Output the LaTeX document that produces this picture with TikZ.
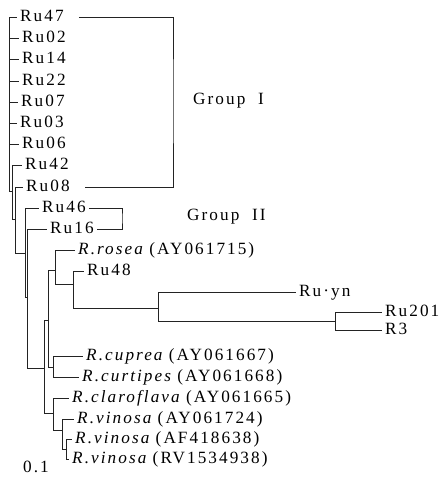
\documentclass[tikz,border=0pt]{standalone}
\usepackage{fontspec}
\setmainfont{Liberation Serif}[LetterSpace=12]
\usepackage{xcolor}
\definecolor{treeink}{RGB}{35, 35, 35}
\usepackage{tikz}
\usetikzlibrary{positioning}

\tikzset{
  leaf/.style={anchor=west, inner xsep=3pt, inner ysep=0pt, text height=11pt, text depth=3pt,
    font=\fontsize{17.2}{19}\selectfont},
  branch/.style={line width=0.6pt, treeink},
}

\begin{document}
\begin{tikzpicture}[x=1pt, y=-1pt]
    \useasboundingbox (0,0) rectangle (446,479);
    \coordinate (n1) at (9,100);
    \coordinate (n2) at (12,191);
    \coordinate (n3) at (15,219);
    \coordinate (n4) at (25,253);
    \coordinate (n5) at (27,297);
    \coordinate (n6) at (44,368);
    \coordinate (n7) at (48,320);
    \coordinate (n8) at (55,270);
    \coordinate (n9) at (73,284);
    \coordinate (n10) at (158,308);
    \coordinate (n10b) at (335,321);
    \coordinate (n11) at (53,367);
    \coordinate (n12) at (53,413);
    \coordinate (n13) at (62,430);
    \coordinate (n14) at (66,449);
    \coordinate (gI) at (173,100);
    \coordinate (gII) at (122,218);
    \node[leaf] (ru47) at (17,17) {Ru47};
    \node[leaf] (ru02) at (19,38) {Ru02};
    \node[leaf] (ru14) at (19,59) {Ru14};
    \node[leaf] (ru22) at (19,81) {Ru22};
    \node[leaf] (ru07) at (18,102) {Ru07};
    \node[leaf] (ru03) at (17,123) {Ru03};
    \node[leaf] (ru06) at (19,144) {Ru06};
    \node[leaf] (ru42) at (22,165) {Ru42};
    \node[leaf] (ru08) at (23,187) {Ru08};
    \node[leaf] (ru46) at (39,208) {Ru46};
    \node[leaf] (ru16) at (47,229) {Ru16};
    \node[leaf] (rosea) at (75,250) {\itshape R.rosea\upshape\ (AY061715)};
    \node[leaf] (ru48) at (84,271) {Ru48};
    \node[leaf] (ruyn) at (296,292) {Ru·yn};
    \node[leaf] (ru201) at (382,312) {Ru201};
    \node[leaf] (r3) at (382,330) {R3};
    \node[leaf] (cuprea) at (83,356) {\itshape R.cuprea\upshape\ (AY061667)};
    \node[leaf] (curtipes) at (79,377) {\itshape R.curtipes\upshape\ (AY061668)};
    \node[leaf] (claroflava) at (69,398) {\itshape R.claroflava\upshape\ (AY061665)};
    \node[leaf] (vinosaA) at (74,419) {\itshape R.vinosa\upshape\ (AY061724)};
    \node[leaf] (vinosaB) at (72,439) {\itshape R.vinosa\upshape\ (AF418638)};
    \node[leaf] (vinosaC) at (69,459) {\itshape R.vinosa\upshape\ (RV1534938)};
    \node[leaf] (scalelab) at (20,468) {0.1};
    \node[leaf] (groupI) at (190,100) {Group\ \ I};
    \node[leaf] (groupII) at (184,216) {Group\ \ II};
    \draw[branch] (n1) |- (ru47.west) (n1) |- (ru02.west) (n1) |- (ru14.west) (n1) |- (ru22.west)
        (n1) |- (ru07.west) (n1) |- (ru03.west) (n1) |- (ru06.west) (n1) |- (n2);
    \draw[branch] (n2) |- (ru42.west) (n2) |- (n3);
    \draw[branch] (n3) |- (ru08.west) (n3) |- (n4);
    \draw[branch] (n4) |- (ru46.west) (n4) |- (n5);
    \draw[branch] (n5) |- (ru16.west) (n5) |- (n6);
    \draw[branch] (n6) |- (n7) (n6) |- (n12);
    \draw[branch] (n7) |- (n8) (n7) |- (n11);
    \draw[branch] (n8) |- (rosea.west) (n8) |- (n9);
    \draw[branch] (n9) |- (ru48.west) (n9) |- (n10);
    \draw[branch] (n10) |- (ruyn.west) (n10) |- (n10b);
    \draw[branch] (n10b) |- (ru201.west) (n10b) |- (r3.west);
    \draw[branch] (n11) |- (cuprea.west) (n11) |- (curtipes.west);
    \draw[branch] (n12) |- (claroflava.west) (n12) |- (n13);
    \draw[branch] (n13) |- (vinosaA.west) (n13) |- (n14);
    \draw[branch] (n14) |- (vinosaB.west) (n14) |- (vinosaC.west);
    \draw[branch] ([xshift=12pt]ru47.east) -| (gI) |- ([xshift=12pt]ru08.east);
    \draw[branch] (ru46.east) -| (gII) |- (ru16.east);
\end{tikzpicture}
\end{document}
